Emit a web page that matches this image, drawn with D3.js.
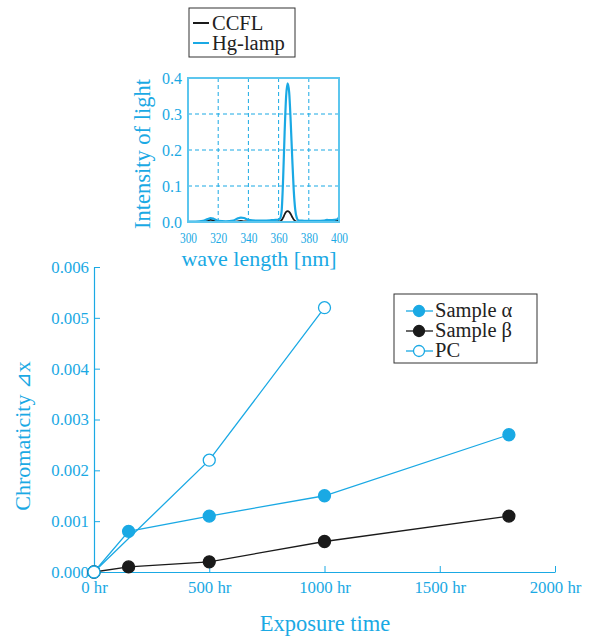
<!DOCTYPE html>
<html>
<head>
<meta charset="utf-8">
<script src="https://cdn.jsdelivr.net/npm/d3@7"></script>
<style>
  body { margin: 0; background: #fff; }
  svg { display: block; }
  svg text { font-family: "Liberation Serif", "DejaVu Serif", serif; }
</style>
</head>
<body>
<svg id="chart" width="592" height="636"></svg>
<script>
"use strict";

// main chart data
const hours = [0, 150, 500, 1000, 1800];
const sampleAlpha = [0, 0.0008, 0.0011, 0.0015, 0.0027];
const sampleBeta = [0, 0.0001, 0.0002, 0.0006, 0.0011];
const pcHours = [0, 500, 1000];
const pcValues = [0, 0.0022, 0.0052];
const xTicks = [0, 500, 1000, 1500, 2000];
const yTicks = [0, 0.001, 0.002, 0.003, 0.004, 0.005, 0.006];

// inset spectrum data
const wave = [300, 305, 310, 313, 315, 317, 320, 325, 330, 333, 335, 337, 340, 345, 350, 355, 358, 360, 361, 362, 363, 364, 365, 366, 367, 368, 369, 370, 371, 372, 373, 375, 378, 385, 390, 392, 394, 397, 399, 400];
const hgLamp = [0.001, 0.001, 0.003, 0.008, 0.011, 0.009, 0.003, 0.002, 0.004, 0.010, 0.012, 0.011, 0.006, 0.004, 0.004, 0.005, 0.006, 0.007, 0.010, 0.03, 0.12, 0.25, 0.35, 0.385, 0.36, 0.28, 0.18, 0.09, 0.035, 0.012, 0.005, 0.004, 0.003, 0.003, 0.004, 0.006, 0.005, 0.006, 0.008, 0.014];
const ccfl = [0.000, 0.000, 0.001, 0.004, 0.006, 0.004, 0.001, 0.000, 0.001, 0.002, 0.003, 0.002, 0.002, 0.002, 0.002, 0.002, 0.002, 0.002, 0.002, 0.005, 0.012, 0.021, 0.028, 0.030, 0.028, 0.022, 0.014, 0.007, 0.003, 0.001, 0.001, 0.001, 0.001, 0.001, 0.002, 0.003, 0.004, 0.004, 0.004, 0.004];
const waveTicks = [300, 320, 340, 360, 380, 400];
const intensityTicks = [0, 0.1, 0.2, 0.3, 0.4];

const blue = "#1aa9e4";
const frameBlue = "#5cc6ee";
const black = "#1a1a1a";
const serif = "Liberation Serif, DejaVu Serif, serif";

const svg = d3.select("#chart");

// ---------- main chart ----------
const x = d3.scaleLinear().domain([0, 2000]).range([94, 555]);
const y = d3.scaleLinear().domain([0, 0.006]).range([572, 267]);

const xAxis = svg.append("g")
  .attr("transform", `translate(0, ${y(0)})`)
  .call(d3.axisBottom(x).tickValues(xTicks).tickSizeInner(-6).tickSizeOuter(0)
    .tickFormat((d) => d + " hr"));
const yAxis = svg.append("g")
  .attr("transform", `translate(${x(0)}, 0)`)
  .call(d3.axisLeft(y).tickValues(yTicks).tickSizeInner(-6).tickSizeOuter(0)
    .tickFormat(d3.format(".3f")));

[xAxis, yAxis].forEach((g) => {
  g.attr("font-family", serif).attr("font-size", 16.8);
  g.select(".domain").attr("stroke", blue).attr("stroke-width", 1.2);
  g.selectAll(".tick line").attr("stroke", blue).attr("stroke-width", 1);
  g.selectAll(".tick text")
    .attr("fill", blue)
    .attr("font-family", serif)
    .attr("font-size", 16.8);
});
xAxis.selectAll(".tick text").attr("y", 3).attr("dy", 18);
yAxis.selectAll(".tick text").attr("x", -5);

svg.append("text")
  .attr("x", 325).attr("y", 631)
  .attr("text-anchor", "middle").attr("fill", blue)
  .style("font-size", "22.5px")
  .text("Exposure time");
const yTitle = svg.append("text")
  .attr("transform", `translate(30, 436) rotate(-90)`)
  .attr("text-anchor", "middle").attr("fill", blue)
  .style("font-size", "22px");
yTitle.append("tspan").text("Chromaticity  ");
yTitle.append("tspan")
  .attr("font-family", "DejaVu Sans, Noto Sans CJK JP, sans-serif")
  .style("font-family", "DejaVu Sans, Noto Sans CJK JP, sans-serif")
  .style("font-size", "20px")
  .text("\u22bf");
yTitle.append("tspan").text("x");

const line = d3.line().x((d) => x(d[0])).y((d) => y(d[1]));

const series = [
  { name: "Sample \u03b1", xs: hours, ys: sampleAlpha, color: blue, fill: blue },
  { name: "Sample \u03b2", xs: hours, ys: sampleBeta, color: black, fill: black },
  { name: "PC", xs: pcHours, ys: pcValues, color: blue, fill: "#fff" }
];

series.forEach((s) => {
  const pts = s.xs.map((h, i) => [h, s.ys[i]]);
  svg.append("path")
    .datum(pts)
    .attr("d", line)
    .attr("fill", "none")
    .attr("stroke", s.color)
    .attr("stroke-width", 1.3);
});
// markers drawn after lines so they sit on top
series.forEach((s) => {
  const pts = s.xs.map((h, i) => [h, s.ys[i]]);
  svg.selectAll(null)
    .data(pts)
    .enter().append("circle")
    .attr("cx", (d) => x(d[0]))
    .attr("cy", (d) => y(d[1]))
    .attr("r", 6)
    .attr("fill", s.fill)
    .attr("stroke", s.color)
    .attr("stroke-width", 1.3);
});

// legend
const leg = svg.append("g").attr("transform", "translate(394, 294)");
leg.append("rect")
  .attr("width", 143).attr("height", 69)
  .attr("fill", "#fff").attr("stroke", "#333").attr("stroke-width", 1);
series.forEach((s, i) => {
  const ly = 17 + i * 20;
  leg.append("line")
    .attr("x1", 12).attr("x2", 39).attr("y1", ly).attr("y2", ly)
    .attr("stroke", s.color).attr("stroke-width", 1.3);
  leg.append("circle")
    .attr("cx", 25).attr("cy", ly).attr("r", 5.5)
    .attr("fill", s.fill).attr("stroke", s.color).attr("stroke-width", 1.3);
  leg.append("text")
    .attr("x", 41).attr("y", ly + 6)
    .attr("fill", "#222")
    .style("font-size", "20.5px")
    .text(s.name);
});

// ---------- inset spectrum ----------
const ix = d3.scaleLinear().domain([300, 400]).range([188, 339]);
const iy = d3.scaleLinear().domain([0, 0.4]).range([222, 78]);

const grid = svg.append("g");
grid.selectAll("line.v")
  .data(waveTicks.slice(1, -1))
  .enter().append("line")
  .attr("x1", (d) => ix(d)).attr("x2", (d) => ix(d))
  .attr("y1", iy(0)).attr("y2", iy(0.4))
  .attr("stroke", blue).attr("stroke-width", 1).attr("stroke-dasharray", "4,3");
grid.selectAll("line.h")
  .data(intensityTicks.slice(1, -1))
  .enter().append("line")
  .attr("x1", ix(300)).attr("x2", ix(400))
  .attr("y1", (d) => iy(d)).attr("y2", (d) => iy(d))
  .attr("stroke", blue).attr("stroke-width", 1).attr("stroke-dasharray", "4,3");

const spec = d3.line()
  .x((d) => ix(d[0]))
  .y((d) => iy(d[1]))
  .curve(d3.curveMonotoneX);

svg.append("path")
  .datum(wave.map((w, i) => [w, ccfl[i]]))
  .attr("d", spec).attr("fill", "none")
  .attr("stroke", black).attr("stroke-width", 1.8);
svg.append("path")
  .datum(wave.map((w, i) => [w, hgLamp[i]]))
  .attr("d", spec).attr("fill", "none")
  .attr("stroke", blue).attr("stroke-width", 2.2);

svg.append("rect")
  .attr("x", ix(300)).attr("y", iy(0.4))
  .attr("width", ix(400) - ix(300)).attr("height", iy(0) - iy(0.4))
  .attr("fill", "none").attr("stroke", frameBlue).attr("stroke-width", 2);

const ixAxis = svg.append("g")
  .attr("transform", `translate(0, ${iy(0)})`)
  .call(d3.axisBottom(ix).tickValues(waveTicks).tickSize(0));
const iyAxis = svg.append("g")
  .attr("transform", `translate(${ix(300)}, 0)`)
  .call(d3.axisLeft(iy).tickValues(intensityTicks).tickSize(0).tickFormat(d3.format(".1f")));
[ixAxis, iyAxis].forEach((g) => {
  g.attr("font-family", serif);
  g.select(".domain").remove();
  g.selectAll(".tick text").attr("fill", blue).attr("font-family", serif);
});
ixAxis.attr("font-size", 15);
ixAxis.selectAll(".tick text")
  .attr("font-size", 15)
  .attr("y", 0).attr("dy", 21)
  .attr("textLength", 17).attr("lengthAdjust", "spacingAndGlyphs");
iyAxis.attr("font-size", 16);
iyAxis.selectAll(".tick text")
  .attr("font-size", 16)
  .attr("x", -6);

svg.append("text")
  .attr("x", 259).attr("y", 266)
  .attr("text-anchor", "middle").attr("fill", blue)
  .style("font-size", "22px")
  .text("wave length [nm]");
svg.append("text")
  .attr("transform", `translate(150, 154) rotate(-90)`)
  .attr("text-anchor", "middle").attr("fill", blue)
  .style("font-size", "22.5px")
  .text("Intensity of light");

// inset legend
const ileg = svg.append("g").attr("transform", "translate(189, 8)");
ileg.append("rect")
  .attr("width", 106).attr("height", 49)
  .attr("fill", "#fff").attr("stroke", "#333").attr("stroke-width", 1);
[{ name: "CCFL", color: black }, { name: "Hg-lamp", color: blue }].forEach((s, i) => {
  const ly = 15 + i * 20;
  ileg.append("line")
    .attr("x1", 4).attr("x2", 20).attr("y1", ly).attr("y2", ly)
    .attr("stroke", s.color).attr("stroke-width", 2);
  ileg.append("text")
    .attr("x", 23).attr("y", ly + 6.5)
    .attr("fill", "#222")
    .style("font-size", "20.5px")
    .text(s.name);
});
</script>
</body>
</html>
